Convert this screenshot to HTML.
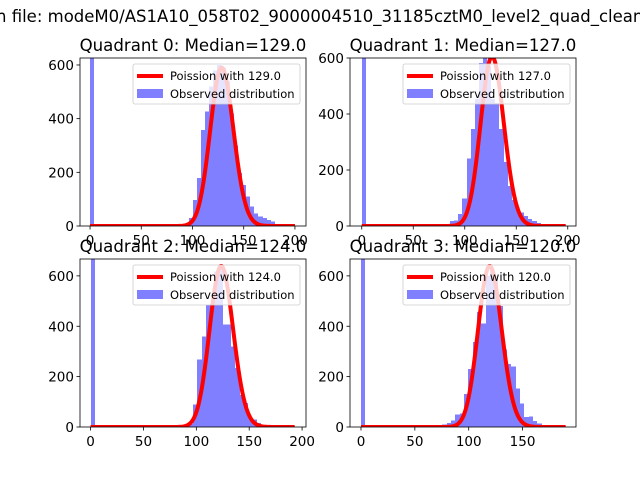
<!DOCTYPE html>
<html><head><meta charset="utf-8">
<style>
html,body{margin:0;padding:0;background:#fff;width:640px;height:480px;overflow:hidden}
svg{display:block;font-family:"DejaVu Sans","Liberation Sans",sans-serif}
</style></head>
<body>
<svg id="fig" width="640" height="480" viewBox="0 0 640 480" xmlns="http://www.w3.org/2000/svg">
<text x="-4" y="22" font-size="16.5" fill="#000">n file: modeM0/AS1A10_058T02_9000004510_31185cztM0_level2_quad_clean.evt</text>
</svg>
<script>
// ---- data ----
const quadrantNames = ["Quadrant 0","Quadrant 1","Quadrant 2","Quadrant 3"];
const medians = [129.0, 127.0, 124.0, 120.0];
const binWidth = 4;
const zeroBinCounts = [700, 700, 700, 700];
const firstBinCounts = [5, 8, 5, 5];
// lower edge of first bin of the main peak (per quadrant)
const peakStart = [84.4, 85.7, 81, 75.6];
const counts0 = [3,5,8,29,97,178,358,427,520,580,600,590,540,420,300,197,153,109,72,47,35,29,22,16,4];
const counts1 = [17,20,42,98,241,347,453,583,602,571,453,440,347,228,142,92,61,48,35,25,17,10,5];
const counts2 = [3,5,8,12,89,267,360,485,488,618,630,406,406,320,234,128,95,36,29,16,7];
const counts3 = [10,16,26,49,53,132,231,337,456,410,600,630,600,480,307,251,240,152,93,40,42,24,13];
const allCounts = [counts0,counts1,counts2,counts3];
const poissonScale = [16800, 17100, 17850, 17550];
const curveMax = [200, 198, 193, 190];
const yTicks = [0,200,400,600];
const xTicks = [0,50,100,150,200];
const yMaxs = [626, 600, 667, 667];
const xMins = [-9.8, -11.4, -10, -10.2];
const xMaxs = [210.8, 208, 203.7, 199.6];
// ---- layout ----
const boxes = [
 {l:80,t:58,w:226,h:168},{l:350,t:58,w:226,h:168},
 {l:80,t:259,w:226,h:168},{l:350,t:259,w:226,h:168}];
const NS="http://www.w3.org/2000/svg";
const fig=document.getElementById('fig');
function mk(tag,attrs,parent){const e=document.createElementNS(NS,tag);for(const k in attrs)e.setAttribute(k,attrs[k]);(parent||fig).appendChild(e);return e;}
function lgamma(z){
  function lg(x){return (x-0.5)*Math.log(x)-x+0.5*Math.log(2*Math.PI)+1/(12*x)-1/(360*x*x*x)+1/(1260*Math.pow(x,5));}
  if(z<7){let p=1;while(z<7){p*=z;z+=1;}return lg(z)-Math.log(p);}return lg(z);
}
function pois(k,lam){return Math.exp(k*Math.log(lam)-lam-lgamma(k+1));}
for(let q=0;q<4;q++){
  const b=boxes[q];
  const g=mk('g',{});
  
  
  const xs=v=>b.l+(v-xMins[q])/(xMaxs[q]-xMins[q])*b.w;
  const ys=v=>b.t+b.h-v/yMaxs[q]*b.h;
  const cid='clip'+q;
  const cp=mk('clipPath',{id:cid},g);mk('rect',{x:b.l,y:b.t,width:b.w,height:b.h},cp);
  const plot=mk('g',{'clip-path':'url(#'+cid+')'},g);
  const bars=mk('g',{fill:'blue','fill-opacity':0.5,'shape-rendering':'crispEdges'},plot);
  const bins=[[0,zeroBinCounts[q]],[binWidth,firstBinCounts[q]]];
  allCounts[q].forEach((c,i)=>bins.push([peakStart[q]+i*binWidth,c]));
  bins.forEach(([lo,c])=>{
    if(c<=0)return;
    const x0=Math.round(xs(lo)),x1=Math.round(xs(lo+binWidth));
    const r=mk('rect',{x:x0,y:ys(c),width:x1-x0,height:ys(0)-ys(c)},bars);
    
    
  });
  let d='';
  for(let k=0;k<=curveMax[q];k++){d+=(k?'L':'M')+xs(k).toFixed(2)+','+ys(poissonScale[q]*pois(k,medians[q])).toFixed(2);}
  const pl=mk('path',{d:d,fill:'none',stroke:'red','stroke-width':4,'stroke-linejoin':'round'},plot);
  
  
  mk('rect',{x:b.l,y:b.t,width:b.w,height:b.h,fill:'none',stroke:'#000','stroke-width':0.8},g);
  yTicks.forEach(v=>{const y=ys(v);if(y<b.t-0.5)return;
    mk('line',{x1:b.l-3.5,x2:b.l,y1:y,y2:y,stroke:'#000','stroke-width':0.8},g);
    const t=mk('text',{x:b.l-6,y:y+5,'font-size':13.5,'text-anchor':'end'},g);t.textContent=v;
    
    });
  xTicks.forEach(v=>{if(v>xMaxs[q])return;const x=xs(v);
    mk('line',{x1:x,x2:x,y1:b.t+b.h,y2:b.t+b.h+3.5,stroke:'#000','stroke-width':0.8},g);
    const t=mk('text',{x:x,y:b.t+b.h+19,'font-size':13.5,'text-anchor':'middle'},g);t.textContent=v;
    
    });
  const tt=mk('text',{x:b.l+b.w/2,y:b.t-7,'font-size':16.6,'text-anchor':'middle'},g);
  tt.textContent=quadrantNames[q]+': Median='+medians[q].toFixed(1);
  
  
  const lg=mk('g',{},g);
  
  
  const lx=b.l+b.w-173,ly=b.t+6;
  mk('rect',{x:lx,y:ly,width:167,height:40,rx:2,fill:'#fff','fill-opacity':0.8,stroke:'#ccc','stroke-width':0.8},lg);
  mk('line',{x1:lx+4,x2:lx+30,y1:ly+12,y2:ly+12,stroke:'red','stroke-width':4},lg);
  const t1=mk('text',{x:lx+37,y:ly+16,'font-size':11.5},lg);t1.textContent='Poission with '+medians[q].toFixed(1);
  
  
  mk('rect',{x:lx+4,y:ly+25,width:26,height:9,fill:'blue','fill-opacity':0.5},lg);
  const t2=mk('text',{x:lx+37,y:ly+34,'font-size':11.5},lg);t2.textContent='Observed distribution';
  
  
}
</script>
</body></html>
